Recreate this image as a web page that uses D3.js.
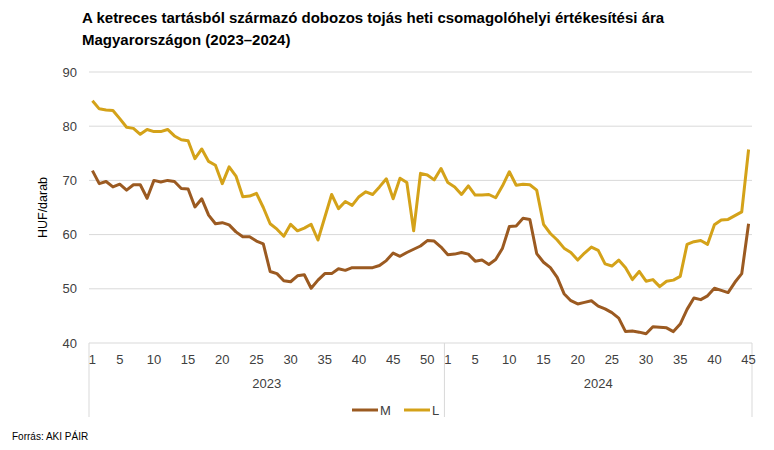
<!DOCTYPE html>
<html><head><meta charset="utf-8">
<script src="https://cdn.jsdelivr.net/npm/d3@7"></script>
<style>body{margin:0;background:#fff;font-family:"Liberation Sans",Arial,sans-serif}</style>
</head><body><svg id="c" width="774" height="450"></svg>
<script>
const years = ["2023","2024"];
const weeks2023 = d3.range(1,53);
const weeks2024 = d3.range(1,46);
const tickLabels2023 = [1,5,10,15,20,25,30,35,40,45,50];
const tickLabels2024 = [1,5,10,15,20,25,30,35,40,45];
const yTicks = [40,50,60,70,80,90];
const seriesNames = ["M","L"];
const M = [71.8,69.4,69.8,68.8,69.3,68.2,69.2,69.2,66.7,70.0,69.7,70.0,69.8,68.5,68.4,65.1,66.6,63.6,62.0,62.2,61.8,60.5,59.6,59.6,58.8,58.3,53.2,52.8,51.5,51.3,52.4,52.6,50.1,51.6,52.8,52.8,53.7,53.4,53.9,53.9,53.9,53.9,54.3,55.2,56.6,56.0,56.7,57.3,57.9,58.9,58.8,57.7,
 56.3,56.4,56.7,56.4,55.1,55.3,54.5,55.4,57.5,61.5,61.6,63.0,62.8,56.5,54.9,53.9,52.1,49.1,47.8,47.2,47.5,47.8,46.8,46.3,45.6,44.6,42.1,42.2,42.0,41.7,43.0,42.9,42.8,42.1,43.5,46.2,48.3,48.0,48.7,50.1,49.7,49.3,51.2,52.8,62.0];
const L = [84.7,83.2,83.0,82.9,81.4,79.8,79.6,78.5,79.4,79.0,79.0,79.4,78.2,77.5,77.3,74.0,75.8,73.5,72.8,69.4,72.5,70.8,67.0,67.1,67.6,65.0,62.0,61.0,59.7,61.9,60.7,61.2,61.9,59.0,63.2,67.4,64.8,66.1,65.4,67.0,67.9,67.4,68.8,70.3,66.6,70.4,69.6,60.7,71.3,71.0,70.1,72.2,
 69.6,68.8,67.4,69.0,67.3,67.3,67.4,66.8,69.0,71.6,69.1,69.3,69.2,68.2,61.9,60.2,59.0,57.5,56.7,55.3,56.6,57.7,57.1,54.6,54.2,55.3,53.9,51.7,53.2,51.4,51.7,50.4,51.4,51.6,52.3,58.2,58.7,58.9,58.2,61.8,62.7,62.8,63.5,64.2,75.7];
const colors = {M:"#9b5a21", L:"#d4a219"};

const cats = weeks2023.map(w=>"2023-"+w).concat(weeks2024.map(w=>"2024-"+w));
const svg = d3.select("#c");
const pL=89, pR=752, pT=72, pB=343;
const x = d3.scaleBand().domain(cats).range([pL,pR]);
const y = d3.scaleLinear().domain([40,90]).range([pB,pT]);
const cx = c => x(c)+x.bandwidth()/2;

// title
const title = svg.append("text").attr("font-size",15).attr("font-weight","bold").attr("fill","#000");
title.append("tspan").attr("x",82).attr("y",23).text("A ketreces tartásból származó dobozos tojás heti csomagolóhelyi értékesítési ára");
title.append("tspan").attr("x",82).attr("y",45).text("Magyarországon (2023–2024)");

// gridlines
svg.append("g").selectAll("line").data(yTicks).join("line")
  .attr("x1",pL).attr("x2",pR).attr("y1",d=>y(d)).attr("y2",d=>y(d))
  .attr("stroke","#d9d9d9").attr("stroke-width",1);
// y labels
svg.append("g").selectAll("text").data(yTicks).join("text")
  .attr("x",77).attr("y",d=>y(d)+4.5).attr("text-anchor","end")
  .attr("font-size",13).attr("fill","#404040").text(d=>d);
svg.append("text").attr("transform",`translate(47,${(pT+pB)/2}) rotate(-90)`)
  .attr("text-anchor","middle").attr("font-size",12.5).attr("fill","#000").text("HUF/darab");

// x category separators
const seps = [pL, x("2024-1"), pR];
svg.append("g").selectAll("line").data(seps).join("line")
  .attr("x1",d=>d).attr("x2",d=>d).attr("y1",pB).attr("y2",417)
  .attr("stroke","#d9d9d9").attr("stroke-width",1);
// tick labels
const tl = tickLabels2023.map(w=>["2023-"+w,w]).concat(tickLabels2024.map(w=>["2024-"+w,w]));
svg.append("g").selectAll("text").data(tl).join("text")
  .attr("x",d=>cx(d[0])).attr("y",364).attr("text-anchor","middle")
  .attr("font-size",13).attr("fill","#404040").text(d=>d[1]);
// year labels
svg.append("g").selectAll("text").data(years).join("text")
  .attr("x",(d,i)=>(seps[i]+seps[i+1])/2).attr("y",388).attr("text-anchor","middle")
  .attr("font-size",13).attr("fill","#404040").text(d=>d);

// lines
const line = d3.line().x((d,i)=>cx(cats[i])).y(d=>y(d));
[["M",M],["L",L]].forEach(([n,data])=>{
  svg.append("path").datum(data).attr("d",line).attr("fill","none")
    .attr("stroke",colors[n]).attr("stroke-width",3).attr("stroke-linejoin","round");
});

// legend
const lg = svg.append("g");
const lpos = [352, 404];
seriesNames.forEach((n,i)=>{
  lg.append("line").attr("x1",lpos[i]).attr("x2",lpos[i]+26).attr("y1",410).attr("y2",410)
    .attr("stroke",colors[n]).attr("stroke-width",3);
  lg.append("text").attr("x",lpos[i]+28).attr("y",415).attr("font-size",13).attr("fill","#404040").text(n);
});

// source
svg.append("text").attr("x",12).attr("y",440).attr("font-size",10).attr("fill","#000").text("Forrás: AKI PÁIR");
</script></body></html>
